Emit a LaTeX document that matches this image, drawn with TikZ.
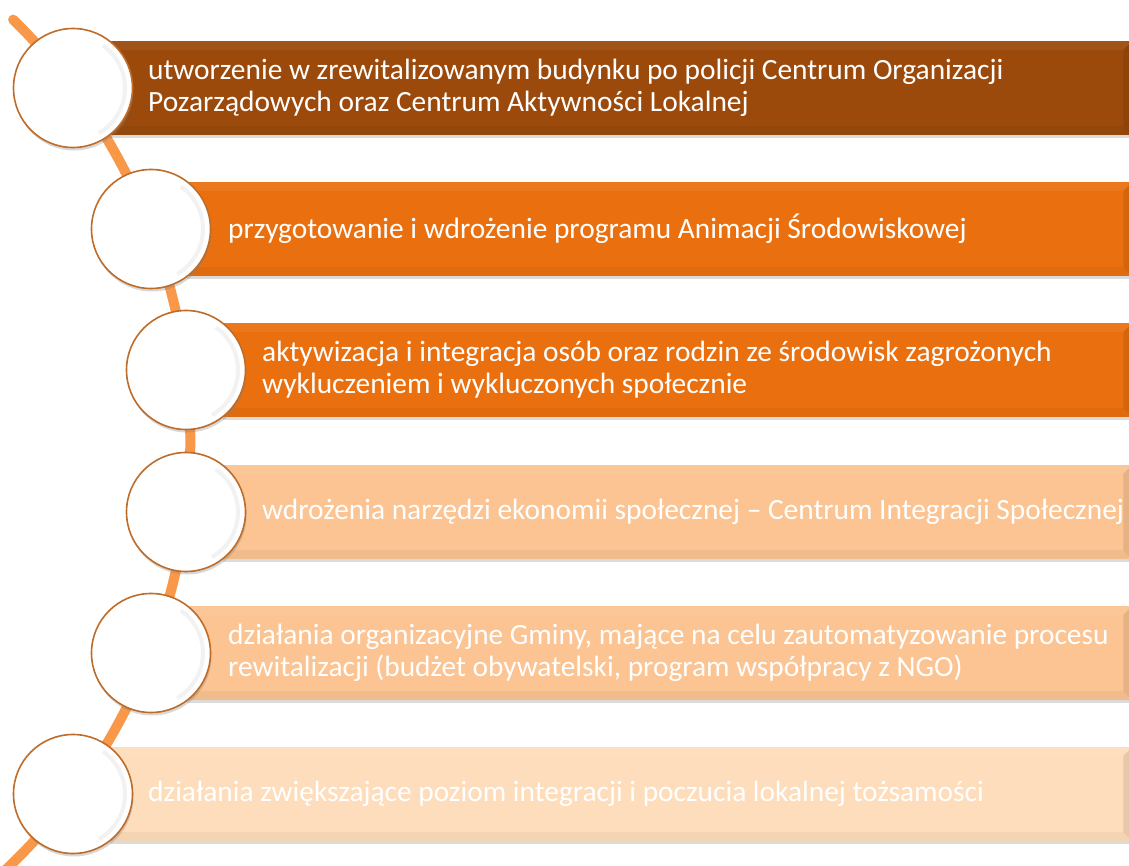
\documentclass[tikz,border=0pt]{standalone}
\usepackage{fontspec}
\setmainfont{Carlito}
\usetikzlibrary{shadows}
\definecolor{barA}{HTML}{9B4A0B}
\definecolor{barB}{HTML}{EA700F}
\definecolor{barC}{HTML}{FBC492}
\definecolor{barD}{HTML}{FDDDBB}
\definecolor{arcCol}{HTML}{F99848}
\definecolor{ringCol}{HTML}{BE6C2A}
\newcommand\mkbevel[1]{%
  \fill[black,opacity=.09] (#1.north east) -- ([shift={(-9,9)}]#1.north east) -- ([shift={(-9,-9)}]#1.south east) -- (#1.south east) -- cycle;
  \fill[black,opacity=.04] (#1.south west) -- ([shift={(0,-9)}]#1.south west) -- ([shift={(-9,-9)}]#1.south east) -- (#1.south east) -- cycle;
  \fill[white,opacity=.06] (#1.north west) -- ([shift={(0,9)}]#1.north west) -- ([shift={(-9,9)}]#1.north east) -- (#1.north east) -- cycle;
}
\newcommand\mkshade[1]{%
  \draw[black,opacity=.05,line width=4pt] (#1.center) ++(-55:52) arc[start angle=-55,end angle=60,radius=52];
}
\begin{document}
\begin{tikzpicture}[x=1pt,y=-1pt,
  barbox/.style={rectangle, inner sep=0pt, minimum height=94pt, anchor=west,
    drop shadow={shadow xshift=0pt, shadow yshift=-3pt, opacity=.28}},
  ring/.style={circle, fill=white, draw=ringCol, line width=1.6pt, minimum size=119pt, inner sep=0pt,
    drop shadow={shadow xshift=1pt, shadow yshift=-3pt, opacity=.3}},
  lbl/.style={anchor=west, align=left, text=white, font=\fontsize{29.4}{32}\selectfont, inner sep=0pt}
]
\useasboundingbox (0,0) rectangle (1129,866);
\clip (0,0) rectangle (1129,866);
\fill[white] (0,0) rectangle (1129,866);

% timeline arc
\coordinate (arcStart) at (13.1,19.6);
\draw[arcCol, line width=10pt, line cap=round] (arcStart) arc[start angle=-45.6, end angle=48, radius=590];

% bars
\node[barbox, fill=barA, minimum width=1022pt] (b1) at (110,88) {};
\node[barbox, fill=barB, minimum width=945pt]  (b2) at (187,229) {};
\node[barbox, fill=barB, minimum width=909pt]  (b3) at (223,370) {};
\node[barbox, fill=barC, minimum width=909pt]  (b4) at (223,512) {};
\node[barbox, fill=barC, minimum width=945pt]  (b5) at (187,653) {};
\node[barbox, fill=barD, minimum width=1022pt] (b6) at (110,794) {};
\mkbevel{b1}\mkbevel{b2}\mkbevel{b3}\mkbevel{b4}\mkbevel{b5}\mkbevel{b6}

% circles
\node[ring] (c1) at (73,88) {};
\node[ring] (c2) at (151,229) {};
\node[ring] (c3) at (186,370) {};
\node[ring] (c4) at (186,512) {};
\node[ring] (c5) at (151,653) {};
\node[ring] (c6) at (73,794) {};
\mkshade{c1}\mkshade{c2}\mkshade{c3}\mkshade{c4}\mkshade{c5}\mkshade{c6}

% texts
\node[lbl] (t1) at (148,88) {utworzenie w zrewitalizowanym budynku po policji Centrum Organizacji\\Pozarządowych oraz Centrum Aktywności Lokalnej};
\node[lbl] (t2) at (228,229) {przygotowanie i wdrożenie programu Animacji Środowiskowej};
\node[lbl] (t3) at (262,370) {aktywizacja i integracja osób oraz rodzin ze środowisk zagrożonych\\wykluczeniem i wykluczonych społecznie};
\node[lbl] (t4) at (262,512) {wdrożenia narzędzi ekonomii społecznej – Centrum Integracji Społecznej};
\node[lbl] (t5) at (228,653) {działania organizacyjne Gminy, mające na celu zautomatyzowanie procesu\\rewitalizacji (budżet obywatelski, program współpracy z NGO)};
\node[lbl] (t6) at (148,794) {działania zwiększające poziom integracji i poczucia lokalnej tożsamości};
\end{tikzpicture}
\end{document}
